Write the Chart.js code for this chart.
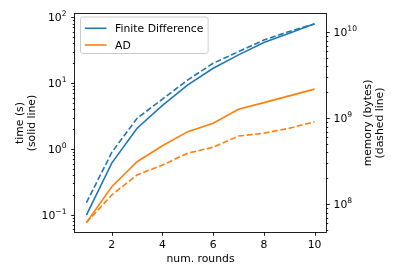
<!DOCTYPE html>
<html>
<head>
<meta charset="utf-8">
<script src="https://cdn.jsdelivr.net/npm/chart.js@4.4.0/dist/chart.umd.min.js"></script>
<style>
  html, body { margin: 0; padding: 0; background: #fff; }
  #wrap { width: 399px; height: 279px; }
</style>
</head>
<body>
<div id="wrap"><canvas id="main-chart" width="399" height="279"></canvas></div>
<script>
(function () {
  "use strict";

  // values
  const rounds = [1, 2, 3, 4, 5, 6, 7, 8, 9, 10];
  const fdTime = [0.099, 0.61, 2.06, 4.6, 9.4, 16.8, 26.8, 41.2, 57.3, 79.4];
  const adTime = [0.076, 0.267, 0.64, 1.12, 1.83, 2.46, 4.0, 5.05, 6.4, 8.1];
  const fdMemory = [1.04e8, 4.0e8, 1.0e9, 1.67e9, 2.79e9, 4.36e9, 5.94e9, 8.13e9, 1.02e10, 1.25e10];
  const adMemory = [6.1e7, 1.28e8, 2.19e8, 2.86e8, 3.92e8, 4.6e8, 6.2e8, 6.7e8, 7.65e8, 9.1e8];
  const seriesNames = ["Finite Difference", "AD"];
  const xTicks = [2, 4, 6, 8, 10];
  const timeTickExps = [-1, 0, 1, 2];
  const memTickExps = [8, 9, 10];
  const timeRange = [0.0548, 112];
  const memRange = [4.75e7, 1.63e10];
  const roundRange = [0.55, 10.45];

  const BLUE = "#1f77b4";
  const ORANGE = "#ff7f0e";
  const FONT = '"DejaVu Sans", sans-serif';
  const FS = 10.8;
  const SUP = 7.6;
  const SPINE = 0.87;

  function points(ys) {
    return rounds.map(function (x, i) {
      return { x: x, y: ys[i] };
    });
  }

  function lineSet(label, ys, color, axis, dashed) {
    return {
      label: label,
      data: points(ys),
      borderColor: color,
      backgroundColor: color,
      borderWidth: 1.6,
      borderDash: dashed ? [5.9, 2.6] : [],
      pointRadius: 0,
      tension: 0,
      fill: false,
      yAxisID: axis,
    };
  }

  function logTicks(min, max) {
    const out = [];
    const e0 = Math.floor(Math.log10(min));
    const e1 = Math.ceil(Math.log10(max));
    for (let e = e0; e <= e1; e++) {
      for (let m = 1; m <= 9; m++) {
        const v = m * Math.pow(10, e);
        if (v >= min && v <= max) out.push({ v: v, major: m === 1 });
      }
    }
    return out;
  }

  function drawLogAxis(ctx, chart, scale, side, exps) {
    const area = chart.chartArea;
    const x0 = side === "left" ? area.left : area.right;
    const dir = side === "left" ? -1 : 1;
    ctx.strokeStyle = "#000";
    ctx.lineWidth = SPINE;
    logTicks(scale.min, scale.max).forEach(function (t) {
      const y = Math.round(scale.getPixelForValue(t.v)) + 0.5;
      const len = t.major ? 3.8 : 2.2;
      ctx.beginPath();
      ctx.moveTo(x0, y);
      ctx.lineTo(x0 + dir * len, y);
      ctx.stroke();
    });
    ctx.fillStyle = "#000";
    ctx.textAlign = "left";
    ctx.textBaseline = "alphabetic";
    exps.forEach(function (e) {
      const y = scale.getPixelForValue(Math.pow(10, e));
      const sup = e < 0 ? "\u2212" + -e : String(e);
      ctx.font = FS + "px " + FONT;
      const bw = ctx.measureText("10").width;
      ctx.font = SUP + "px " + FONT;
      const sw = ctx.measureText(sup).width;
      const xs = side === "left" ? x0 - 8.5 - bw - sw : x0 + 7.6;
      ctx.font = FS + "px " + FONT;
      ctx.fillText("10", xs, y + 4.1);
      ctx.font = SUP + "px " + FONT;
      ctx.fillText(sup, xs + bw, y - 0.8);
    });
  }

  function drawTitle(ctx, lines, cx, cy) {
    ctx.save();
    ctx.translate(cx, cy);
    ctx.rotate(-Math.PI / 2);
    ctx.font = FS + "px " + FONT;
    ctx.fillStyle = "#000";
    ctx.textAlign = "center";
    ctx.textBaseline = "middle";
    ctx.fillText(lines[0], 0, -6);
    ctx.fillText(lines[1], 0, 6);
    ctx.restore();
  }

  function drawLegend(ctx, chart) {
    const left = 80.5, top = 17, bottom = 53.5, pad = 4.3;
    ctx.font = FS + "px " + FONT;
    const textW = Math.max.apply(null, seriesNames.map(function (n) {
      return ctx.measureText(n).width;
    }));
    const handleX = left + pad;
    const handleLen = 21.7;
    const textX = handleX + handleLen + 8.6;
    const right = textX + textW + pad + 0.5;

    ctx.beginPath();
    ctx.roundRect(left, top, right - left, bottom - top, 2.2);
    ctx.fillStyle = "rgba(255,255,255,0.8)";
    ctx.fill();
    ctx.strokeStyle = "#cccccc";
    ctx.lineWidth = 1;
    ctx.stroke();

    const rows = [28.3, 45];
    const colors = [chart.data.datasets[0].borderColor, chart.data.datasets[1].borderColor];
    seriesNames.forEach(function (name, i) {
      ctx.strokeStyle = colors[i];
      ctx.lineWidth = 1.6;
      ctx.beginPath();
      ctx.moveTo(handleX, rows[i]);
      ctx.lineTo(handleX + handleLen, rows[i]);
      ctx.stroke();
      ctx.fillStyle = "#000";
      ctx.textAlign = "left";
      ctx.textBaseline = "alphabetic";
      ctx.fillText(name, textX, rows[i] + 3.9);
    });
  }

  const decorations = {
    id: "decorations",
    afterDraw: function (chart) {
      const ctx = chart.ctx;
      const area = chart.chartArea;
      ctx.save();

      // frame
      ctx.strokeStyle = "#000";
      ctx.lineWidth = SPINE;
      ctx.strokeRect(Math.round(area.left) - 0.5, Math.round(area.top) - 0.5,
        Math.round(area.right - area.left) + 1, Math.round(area.bottom - area.top) + 1);

      // x ticks
      const xs = chart.scales.x;
      xTicks.forEach(function (v) {
        const x = Math.round(xs.getPixelForValue(v)) + 0.5;
        ctx.beginPath();
        ctx.moveTo(x, area.bottom);
        ctx.lineTo(x, area.bottom + 3.8);
        ctx.stroke();
      });

      drawLogAxis(ctx, chart, chart.scales.y, "left", timeTickExps);
      drawLogAxis(ctx, chart, chart.scales.y1, "right", memTickExps);

      const cy = (area.top + area.bottom) / 2;
      drawTitle(ctx, ["time (s)", "(solid line)"], 26, cy);
      drawTitle(ctx, ["memory (bytes)", "(dashed line)"], 374.5, cy);

      drawLegend(ctx, chart);
      ctx.restore();
    },
  };

  const ctx = document.getElementById("main-chart").getContext("2d");
  new Chart(ctx, {
    type: "line",
    data: {
      datasets: [
        lineSet(seriesNames[0], fdTime, BLUE, "y", false),
        lineSet(seriesNames[1], adTime, ORANGE, "y", false),
        lineSet(seriesNames[0] + " memory", fdMemory, BLUE, "y1", true),
        lineSet(seriesNames[1] + " memory", adMemory, ORANGE, "y1", true),
      ],
    },
    options: {
      responsive: false,
      animation: false,
      devicePixelRatio: 1,
      layout: { padding: { top: 14, left: 0, right: 0, bottom: 0 } },
      plugins: {
        legend: { display: false },
        tooltip: { enabled: false },
      },
      scales: {
        x: {
          type: "linear",
          min: roundRange[0],
          max: roundRange[1],
          grid: { display: false, drawTicks: false },
          border: { display: false },
          afterBuildTicks: function (scale) {
            scale.ticks = xTicks.map(function (v) {
              return { value: v };
            });
          },
          ticks: {
            autoSkip: false,
            maxRotation: 0,
            padding: 7,
            color: "#000",
            font: { family: FONT, size: FS },
          },
          title: {
            display: true,
            text: "num. rounds",
            color: "#000",
            font: { family: FONT, size: FS },
            padding: { top: 0, bottom: 13 },
          },
          afterFit: function (scale) {
            scale.height = 47;
          },
        },
        y: {
          type: "logarithmic",
          position: "left",
          min: timeRange[0],
          max: timeRange[1],
          grid: { display: false, drawTicks: false },
          border: { display: false },
          ticks: { display: false },
          afterFit: function (scale) {
            scale.width = 75;
          },
        },
        y1: {
          type: "logarithmic",
          position: "right",
          min: memRange[0],
          max: memRange[1],
          grid: { display: false, drawTicks: false },
          border: { display: false },
          ticks: { display: false },
          afterFit: function (scale) {
            scale.width = 73;
          },
        },
      },
    },
    plugins: [decorations],
  });
})();
</script>
</body>
</html>
